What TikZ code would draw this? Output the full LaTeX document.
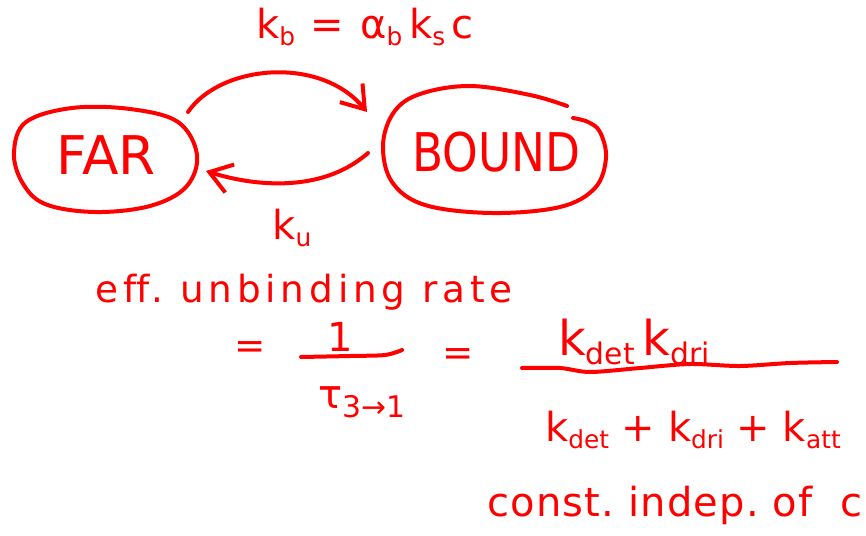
\documentclass[tikz,border=0pt]{standalone}
\usepackage{fontspec}
\setmainfont{DejaVu Sans}
\usetikzlibrary{arrows.meta}
\definecolor{ink}{RGB}{255,0,0}
% lowered, shrunk index letters
\newcommand\sub[1]{\raisebox{-0.35ex}{\scalebox{0.62}{#1}}}
\tikzset{
  pen/.style={draw=ink, line width=3pt, line cap=round, line join=round},
  hand/.style={text=ink, inner sep=0pt},
  barb/.style={-{Straight Barb[length=16pt,width=22pt,line width=3pt]}},
}
\begin{document}
\begin{tikzpicture}[x=0.75pt,y=-0.75pt]
\useasboundingbox (0,0) rectangle (866,535);

% states
\node[hand, font=\fontsize{40}{42}\selectfont] (far) at (106,155) {FAR};
\node[hand, font=\fontsize{40}{42}\selectfont] (bound) at (496,152) {\scalebox{0.85}[1]{BOUND}};

% outlines round the states
\draw[pen] plot[smooth cycle, tension=0.6] coordinates {
  (14,152) (26,122) (72,108) (130,109) (178,122) (197,155)
  (186,187) (150,206) (95,212) (45,204) (22,182)};
\draw[pen] plot[smooth, tension=0.6] coordinates {
  (567,106) (530,95) (470,86) (420,94) (394,112) (383,145)
  (392,182) (425,205) (492,213) (560,207) (595,188) (606,158)
  (600,132) (588,122) (573,118)};

% transitions
\coordinate (t1) at (188,112);
\coordinate (t2) at (367,112);
\coordinate (b1) at (368,153);
\coordinate (b2) at (206,171);
\draw[pen, barb] (t1) .. controls (220,65) and (320,55) .. (t2);
\draw[pen, barb] (b1) .. controls (320,195) and (250,185) .. (b2);

\node[hand, font=\fontsize{30}{30}\selectfont\addfontfeatures{LetterSpace=8}] (kb) at (365,27)
  {k\sub{b} = α\sub{b}\,k\sub{s}\,c};
\node[hand, font=\fontsize{30}{30}\selectfont] (ku) at (292,228) {k\sub{u}};

% effective unbinding rate
\node[hand, font=\fontsize{28}{28}\selectfont\addfontfeatures{LetterSpace=13}, anchor=west] (eff) at (95,292)
  {ef\kern0ptf.\ unbinding rate};
\node[hand, font=\fontsize{28}{30}\selectfont] (eq1) at (250,350) {=};
\node[hand, font=\fontsize{30}{30}\selectfont] (one) at (340,337) {1};
\draw[pen] plot[smooth] coordinates {(301,357) (350,356) (385,355) (402,350)};
\node[hand, font=\fontsize{30}{30}\selectfont] (tau) at (362,402) {τ\scalebox{1.2}{\sub{3→1}}};
\node[hand, font=\fontsize{28}{30}\selectfont] (eq2) at (458,357) {=};
\node[hand, font=\fontsize{36}{36}\selectfont] (num) at (634,342) {k\sub{det}\,k\sub{dri}};
\draw[pen] plot[smooth, tension=0.5] coordinates {
  (522,368) (560,368) (590,372) (640,368) (690,364) (740,366) (790,363) (837,362)};
\node[hand, font=\fontsize{30}{30}\selectfont] (den) at (693,430)
  {k\sub{det} + k\sub{dri} + k\sub{att}};
\node[hand, font=\fontsize{30}{30}\selectfont\addfontfeatures{LetterSpace=3}, anchor=west] (cst) at (487,505)
  {const.\ indep.\ of\ \ c};
\end{tikzpicture}
\end{document}
